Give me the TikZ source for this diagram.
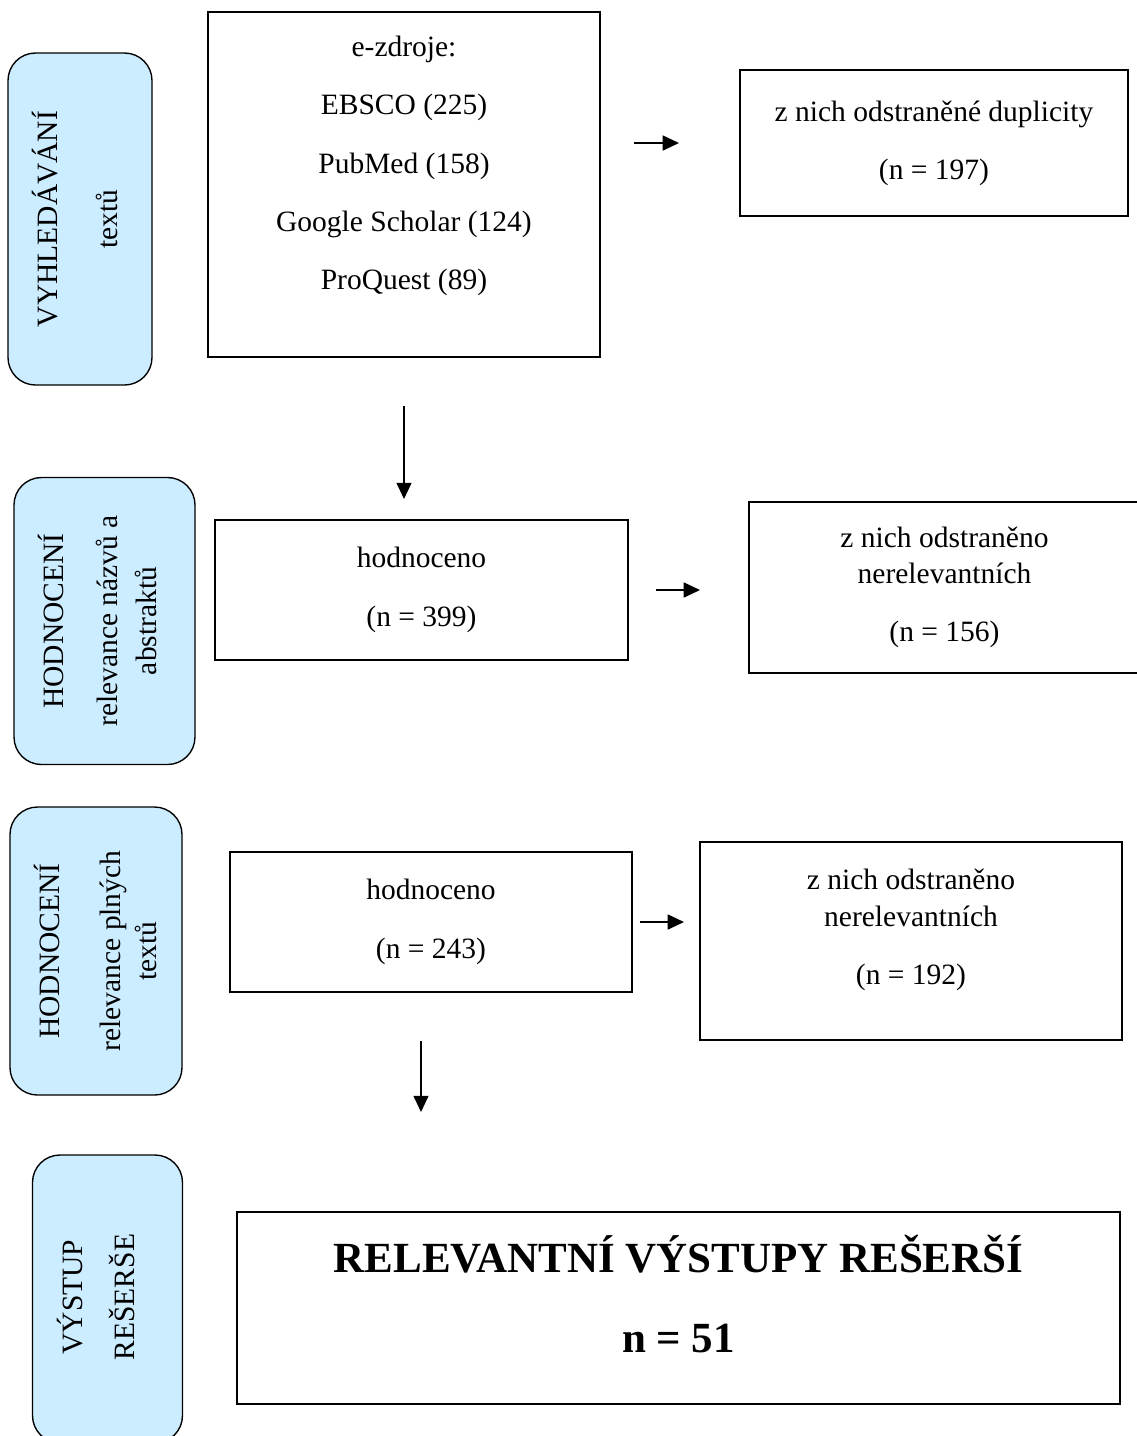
\documentclass[tikz,border=0pt]{standalone}
\usepackage{fontspec}
\setmainfont{Liberation Serif}
\usetikzlibrary{arrows.meta}
\definecolor{stageblue}{HTML}{CCECFF}
\newcommand{\parskp}{\\[8.8pt]}

\begin{document}
\begin{tikzpicture}[x=0.4pt,y=-0.4pt,
    font=\fontsize{11.8}{14.5}\selectfont,
    stage/.style={draw=black,line width=0.55pt,fill=stageblue,
      rounded corners=11pt,rotate=90,inner sep=0pt},
    stagetext/.style={rotate=90,align=center},
    box/.style={draw=black,line width=0.8pt,align=center,inner sep=0pt},
    flow/.style={-{Triangle[length=6.5pt,width=6pt]},line width=0.6pt}]
     \useasboundingbox (0,0) rectangle (1137,1436);
     % stages
     \node[stage,minimum width=132.8pt,minimum height=57.6pt] (st1) at (80,219) {};
     \node[stagetext] (st1txt) at (75,219) {VYHLEDÁVÁNÍ\\[9.5pt]textů};
     \node[stage,minimum width=114.8pt,minimum height=72.4pt] (st2) at (104.5,621) {};
     \node[stagetext] (st2txt) at (97.5,621)
       {HODNOCENÍ\\[7pt]relevance názvů a\\[1pt]abstraktů};
     \node[stage,minimum width=115.2pt,minimum height=68.8pt] (st3) at (96,951) {};
     \node[stagetext] (st3txt) at (95.5,951)
       {HODNOCENÍ\\[10pt]relevance plných\\textů};
     \node[stage,minimum width=115.2pt,minimum height=60pt] (st4) at (107.5,1299) {};
     \node[stagetext] (st4txt) at (96,1297) {VÝSTUP\\[6pt]REŠERŠE};
     % boxes
     \node[box,minimum width=156.8pt,minimum height=138pt] (src) at (404,184.5) {};
     \node[align=center] (srclist) at (404,166)
       {e-zdroje:\parskp EBSCO (225)\parskp PubMed (158)\parskp
        Google Scholar (124)\parskp ProQuest (89)};
     \node[box,minimum width=155.2pt,minimum height=58.4pt] (dup) at (934,143)
       {z nich odstraněné duplicity\parskp (n = 197)};
     \node[box,minimum width=165.2pt,minimum height=56pt] (hit1) at (421.5,590)
       {hodnoceno\parskp (n = 399)};
     \node[box,minimum width=156.4pt,minimum height=68.4pt] (del1) at (944.5,587.5)
       {z nich odstraněno\\nerelevantních\parskp (n = 156)};
     \node[box,minimum width=160.8pt,minimum height=56pt] (hit2) at (431,922)
       {hodnoceno\parskp (n = 243)};
     \node[box,minimum width=168.8pt,minimum height=79.2pt] (del2) at (911,941) {};
     \node[align=center] (del2txt) at (911,930)
       {z nich odstraněno\\nerelevantních\parskp (n = 192)};
     \node[box,minimum width=353.2pt,minimum height=76.8pt] (out) at (678.5,1308) {};
     \node[align=center,font=\fontsize{17.2}{20}\selectfont\bfseries] (outtxt)
       at (678.5,1294) {RELEVANTNÍ VÝSTUPY REŠERŠÍ\\[12pt]n = 51};
     % arrows
     \draw[flow,shorten <=13.2pt,shorten >=24pt] (src.east |- dup.west) -- (dup.west);
     \draw[flow,shorten <=19.2pt,shorten >=8pt] (src.south) -- (src.south |- hit1.north);
     \draw[flow,shorten <=10.8pt,shorten >=19.2pt] (hit1.east) -- (hit1.east -| del1.west);
     \draw[flow,shorten <=2.8pt,shorten >=6pt] (hit2.east) -- (hit2.east -| del2.west);
     \draw[flow,shorten <=19.2pt,shorten >=39.6pt] ([xshift=-4pt]hit2.south)
       -- ([xshift=-4pt]hit2.south |- out.north);
\end{tikzpicture}
\end{document}
